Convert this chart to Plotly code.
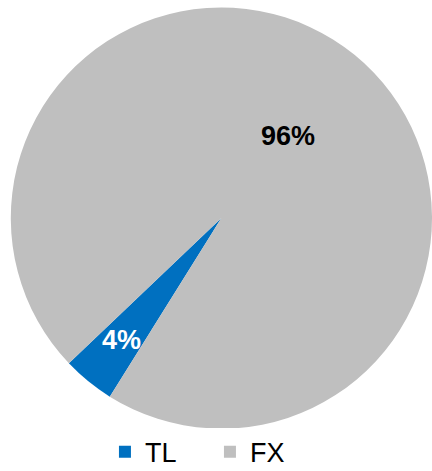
import math
import plotly.graph_objects as go

# Share of TL vs FX
labels = ["TL", "FX"]
values = [4, 96]
colors = ["#0070C0", "#BFBFBF"]

W, H = 432, 471
ROTATION = 212
DOM_X = [0.025, 1.0]
DOM_Y = [0.087, 0.987]
FONT = "Liberation Sans, Arial, sans-serif"

fig = go.Figure(
    go.Pie(
        labels=labels,
        values=values,
        sort=False,
        direction="clockwise",
        rotation=ROTATION,
        marker=dict(colors=colors, line=dict(width=0)),
        # the thin TL wedge gets its label placed separately below
        texttemplate=["", "<b>%{percent:.0%}</b>"],
        textposition="inside",
        insidetextorientation="horizontal",
        textfont=dict(family=FONT, size=27, color="#000000"),
        domain=dict(x=DOM_X, y=DOM_Y),
        hoverinfo="label+percent",
    )
)

# Percentage label for the TL wedge, set at 3/4 of the radius along its bisector
total = sum(values)
share = values[0] / total
mid_deg = ROTATION + 360 * share / 2
cx_px = (DOM_X[0] + DOM_X[1]) / 2 * W
cy_px = (DOM_Y[0] + DOM_Y[1]) / 2 * H
r_px = min((DOM_X[1] - DOM_X[0]) * W, (DOM_Y[1] - DOM_Y[0]) * H) / 2
lab_r = 0.75 * r_px
lx = (cx_px + lab_r * math.sin(math.radians(mid_deg))) / W
ly = (cy_px + lab_r * math.cos(math.radians(mid_deg))) / H

fig.add_annotation(
    x=lx,
    y=ly,
    xref="paper",
    yref="paper",
    text=f"<b>{round(share * 100)}%</b>",
    showarrow=False,
    font=dict(family=FONT, size=27, color="#FFFFFF"),
    xanchor="center",
    yanchor="middle",
)

fig.update_layout(
    width=W,
    height=H,
    margin=dict(l=0, r=0, t=0, b=0, autoexpand=False),
    paper_bgcolor="white",
    plot_bgcolor="white",
    font=dict(family=FONT, color="#000000"),
    uniformtext=dict(minsize=27, mode="show"),
    legend=dict(
        orientation="h",
        x=0.486,
        xanchor="center",
        y=-0.012,
        yanchor="bottom",
        font=dict(size=27),
        entrywidth=60,
        entrywidthmode="pixels",
        itemsizing="constant",
    ),
)

fig.write_html("out.html")
